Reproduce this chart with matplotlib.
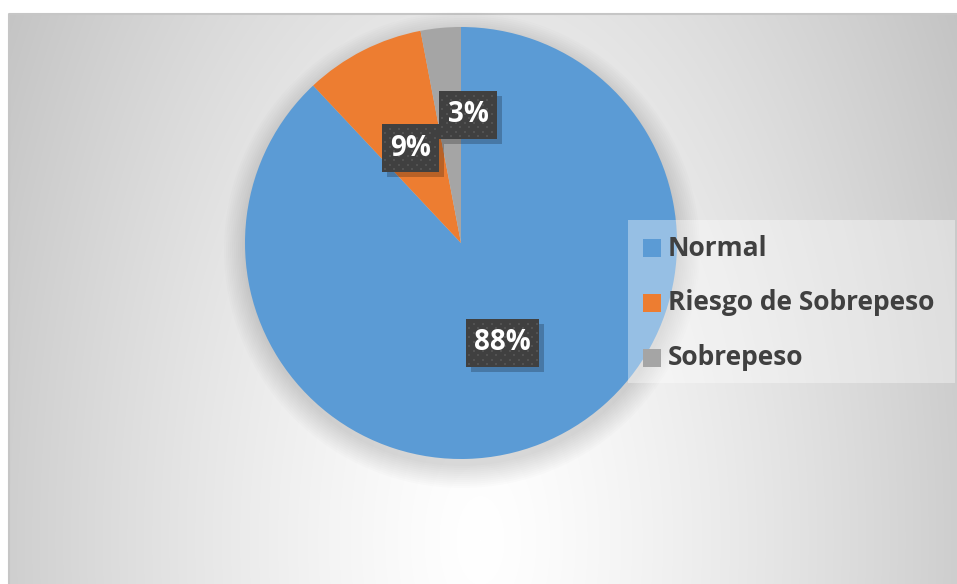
import numpy as np
import matplotlib.pyplot as plt
from matplotlib.patches import Rectangle, Circle

# datos
categorias = ['Normal', 'Riesgo de Sobrepeso', 'Sobrepeso']
porcentajes = [88, 9, 3]
colores = ['#5B9BD5', '#ED7D31', '#A5A5A5']
etiquetas = ['88%', '9%', '3%']

W, H = 957, 584
fig = plt.figure(figsize=(W / 100, H / 100), dpi=100)
ax = fig.add_axes([0, 0, 1, 1])

# fondo con degradado radial (centro abajo al medio)
x0 = 9
yy, xx = np.mgrid[14:H, x0:W]
dx = (xx - 480) / 471.0
dy = (yy - 540) / 869.0
s = np.sqrt(dx ** 2 + dy ** 2)
g = (255 - 48 * s ** 1.3) / 255.0
img = np.dstack([g, g, g])
ax.imshow(img, extent=[x0, W, 0, H - 14], origin='upper', zorder=0,
          interpolation='bilinear')
ax.plot([x0, x0, W], [0, H - 14, H - 14], color='#c6c6c6', lw=1.5, zorder=1)

# sombra del pastel
cxp, cyp, rad = 461, H - 243, 216
for i in range(12):
    ax.add_patch(Circle((cxp + 1, cyp - 7), rad + 22 - i * 2,
                        color='black', alpha=0.012, lw=0, zorder=1))

ax.pie(porcentajes, colors=colores, startangle=90, counterclock=False,
       center=(cxp, cyp), radius=rad, frame=True,
       wedgeprops=dict(linewidth=0, zorder=2))
ax.set_xlim(0, W)
ax.set_ylim(0, H)
ax.axis('off')

# etiquetas de datos (cajas oscuras con textura)
pos_etq = [(502.5, 343), (410.5, 148), (468, 115)]
ancho_etq = [73, 57, 58]
alto = 48
for txt, (px, py), bw in zip(etiquetas, pos_etq, ancho_etq):
    yb = H - py
    ax.add_patch(Rectangle((px - bw / 2 + 5, yb - alto / 2 - 5), bw, alto,
                           fc='black', alpha=0.22, lw=0, zorder=5))
    ax.add_patch(Rectangle((px - bw / 2, yb - alto / 2), bw, alto,
                           fc='#404040', lw=0, zorder=6))
    gx, gy = [], []
    for j in range(int(alto / 4.5)):
        for i in range(int(bw / 9) + 1):
            xg = px - bw / 2 + 3 + 9 * i + 4.5 * (j % 2)
            yg = yb - alto / 2 + 3 + 4.5 * j
            if xg < px + bw / 2 - 2:
                gx.append(xg)
                gy.append(yg)
    ax.scatter(gx, gy, s=4, marker='s', color='#525252', lw=0, zorder=7)
    ax.text(px, yb, txt, fontsize=20, fontweight='bold', color='white',
            family='Open Sans', ha='center', va='center', zorder=8)

# leyenda
ax.add_patch(Rectangle((628, H - 383), W - 628 - 2, 163, fc='white',
                       alpha=0.36, lw=0, zorder=4))
fil_y = [248, 302.5, 357.5]
for cat, col, fy in zip(categorias, colores, fil_y):
    ax.add_patch(Rectangle((643, H - fy - 9), 18, 18, fc=col, lw=0, zorder=5))
    ax.text(668, H - fy, cat, fontsize=19, fontweight='bold', color='#404040',
            family='Open Sans', ha='left', va='center', zorder=5)

fig.savefig('out.png', dpi=100)
